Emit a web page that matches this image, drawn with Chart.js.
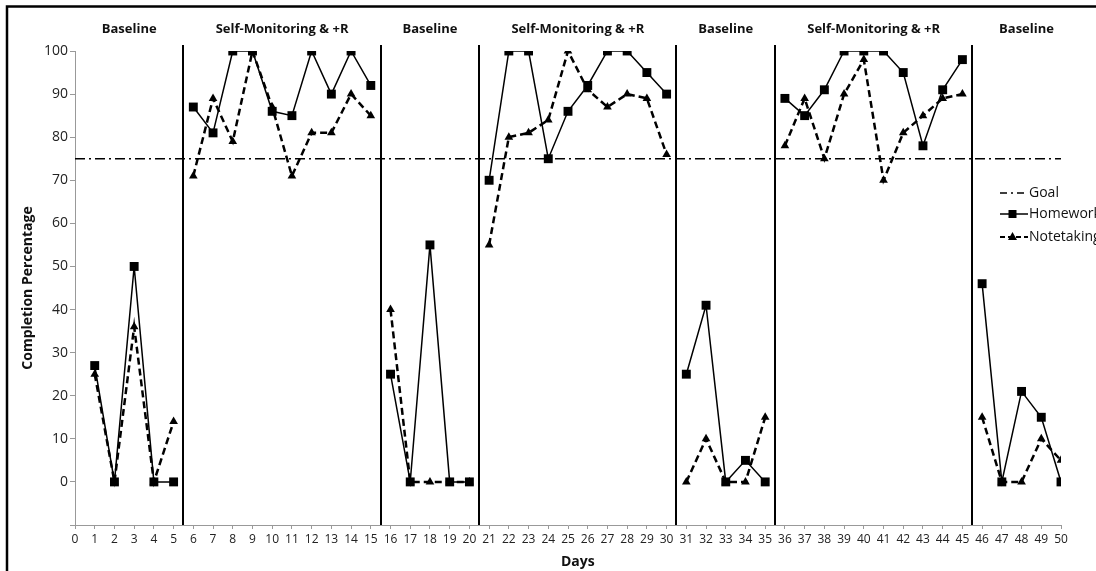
<!DOCTYPE html>
<html>
<head>
<meta charset="utf-8">
<script src="https://cdn.jsdelivr.net/npm/chart.js@4.4.0/dist/chart.umd.min.js"></script>
<style>
    html, body { margin: 0; padding: 0; background: #fff; }
    #wrap { width: 1096px; height: 571px; position: relative; }
</style>
</head>
<body>
<div id="wrap"><canvas id="phaseChart"></canvas></div>
<script>
// Days 1..50
const days = [
    1, 2, 3, 4, 5, 6, 7, 8, 9, 10, 11, 12, 13, 14, 15, 16, 17, 18, 19, 20, 21, 22, 23, 24, 25,
    26, 27, 28, 29, 30, 31, 32, 33, 34, 35, 36, 37, 38, 39, 40, 41, 42, 43, 44, 45, 46, 47, 48, 49, 50
];
const homework = [
    27, 0, 50, 0, 0,
    87, 81, 100, 100, 86, 85, 100, 90, 100, 92,
    25, 0, 55, 0, 0,
    70, 100, 100, 75, 86, 92, 100, 100, 95, 90,
    25, 41, 0, 5, 0,
    89, 85, 91, 100, 100, 100, 95, 78, 91, 98,
    46, 0, 21, 15, 0
];
const notetaking = [
    25, 0, 36, 0, 14,
    71, 89, 79, 100, 87, 71, 81, 81, 90, 85,
    40, 0, 0, 0, 0,
    55, 80, 81, 84, 100, 91, 87, 90, 89, 76,
    0, 10, 0, 0, 15,
    78, 89, 75, 90, 98, 70, 81, 85, 89, 90,
    15, 0, 0, 10, 5
];
const goal = 75;
const dayRange = [0, 50];
const phaseChanges = [5.5, 15.5, 20.5, 30.5, 35.5, 45.5];
const phaseNames = [
    'Baseline', 'Self-Monitoring & +R', 'Baseline', 'Self-Monitoring & +R',
    'Baseline', 'Self-Monitoring & +R', 'Baseline'
];

const FONT = "'Open Sans', sans-serif";

function phaseOf(x) {
    let p = 0;
    phaseChanges.forEach(c => { if (x > c) p++; });
    return p;
}

// hide the connecting segment between two phases
const breakAtPhase = ctx =>
    phaseOf(ctx.p0.parsed.x) !== phaseOf(ctx.p1.parsed.x) ? 'rgba(0,0,0,0)' : undefined;

const phasePlugin = {
    id: 'phases',
    afterDatasetsDraw(chart) {
        const { ctx, chartArea, scales: { x } } = chart;
        ctx.save();
        ctx.strokeStyle = '#000';
        ctx.lineWidth = 2;
        phaseChanges.forEach(c => {
            const px = Math.round(x.getPixelForValue(c));
            ctx.beginPath();
            ctx.moveTo(px, chartArea.top - 6);
            ctx.lineTo(px, chartArea.bottom);
            ctx.stroke();
        });

        // phase headings, centred in each phase
        const bounds = [dayRange[0], ...phaseChanges, dayRange[1] + 1];
        ctx.fillStyle = '#111';
        ctx.font = 'bold 13px ' + FONT;
        ctx.textAlign = 'center';
        ctx.textBaseline = 'middle';
        phaseNames.forEach((name, i) => {
            const cx = x.getPixelForValue((bounds[i] + bounds[i + 1]) / 2);
            ctx.fillText(name, cx, 29);
        });

        // x axis title
        ctx.font = 'bold 14px ' + FONT;
        ctx.fillText('Days', x.getPixelForValue((dayRange[0] + dayRange[1] + 1) / 2), 562);
        ctx.restore();
    },
    afterDraw(chart) {
        const { ctx } = chart;
        const sets = chart.data.datasets;
        ctx.save();
        // legend (the text runs off the right edge, as in the original)
        const rows = [193, 214, 237];
        const x0 = 1000, x1 = 1029, mid = 1012.5;
        ctx.font = '14px ' + FONT;
        ctx.textBaseline = 'middle';
        ctx.textAlign = 'left';
        ctx.strokeStyle = '#000';

        // Goal
        ctx.lineWidth = 1.5;
        ctx.setLineDash([7, 4, 2, 4]);
        ctx.beginPath();
        ctx.moveTo(x0, rows[0]);
        ctx.lineTo(x0 + 26, rows[0]);
        ctx.stroke();
        ctx.setLineDash([]);
        ctx.fillStyle = '#111';
        ctx.fillText(sets[0].label, x1, rows[0]);

        // Homework
        ctx.lineWidth = 1.5;
        ctx.beginPath();
        ctx.moveTo(x0, rows[1]);
        ctx.lineTo(x1 - 1, rows[1]);
        ctx.stroke();
        ctx.fillStyle = '#000';
        ctx.fillRect(mid - 4, rows[1] - 4, 8, 8);
        ctx.fillStyle = '#111';
        ctx.fillText(sets[1].label, x1, rows[1]);

        // Notetaking
        ctx.lineWidth = 2;
        ctx.setLineDash([5, 3]);
        ctx.beginPath();
        ctx.moveTo(x0, rows[2]);
        ctx.lineTo(x1 - 1, rows[2]);
        ctx.stroke();
        ctx.setLineDash([]);
        ctx.fillStyle = '#000';
        ctx.beginPath();
        ctx.moveTo(mid, rows[2] - 5);
        ctx.lineTo(mid + 4.5, rows[2] + 3);
        ctx.lineTo(mid - 4.5, rows[2] + 3);
        ctx.closePath();
        ctx.fill();
        ctx.fillStyle = '#111';
        ctx.fillText(sets[2].label, x1, rows[2]);

        // picture frame
        ctx.lineWidth = 2.5;
        ctx.strokeStyle = '#000';
        ctx.strokeRect(7, 6.5, 1200, 700);
        ctx.restore();
    }
};

function createPhaseChart() {
    const el = document.getElementById('phaseChart');

    const data = {
        datasets: [
            {
                label: 'Goal',
                data: dayRange.map(d => ({ x: d, y: goal })),
                borderColor: '#000',
                borderWidth: 1.5,
                borderDash: [10, 4, 2, 4],
                pointRadius: 0,
                order: 3
            },
            {
                label: 'Homework',
                data: days.map((d, i) => ({ x: d, y: homework[i] })),
                borderColor: '#000',
                borderWidth: 1.5,
                pointStyle: 'rect',
                pointRadius: 6.3,
                pointBackgroundColor: '#000',
                pointBorderWidth: 0,
                segment: { borderColor: breakAtPhase },
                order: 1
            },
            {
                label: 'Notetaking',
                data: days.map((d, i) => ({ x: d, y: notetaking[i] })),
                borderColor: '#000',
                borderWidth: 2.5,
                borderDash: [7, 4],
                pointStyle: 'triangle',
                pointRadius: 5,
                pointBackgroundColor: '#000',
                pointBorderWidth: 0,
                segment: { borderColor: breakAtPhase },
                order: 2
            }
        ]
    };

    const config = {
        type: 'line',
        data: data,
        options: {
            responsive: true,
            maintainAspectRatio: false,
            animation: false,
            layout: { padding: { left: 10, top: 51, right: 35, bottom: 0 } },
            plugins: {
                legend: { display: false },
                tooltip: { enabled: false }
            },
            scales: {
                x: {
                    type: 'linear',
                    min: dayRange[0],
                    max: dayRange[1],
                    afterFit: s => { s.height = 46; },
                    ticks: {
                        stepSize: 1,
                        autoSkip: false,
                        maxRotation: 0,
                        padding: 3,
                        color: '#222',
                        font: { family: FONT, size: 12 }
                    },
                    grid: { drawOnChartArea: false, tickLength: 4, color: '#999' },
                    border: { color: '#999' }
                },
                y: {
                    min: -10,
                    max: 100,
                    afterFit: s => { s.width = 65; },
                    ticks: {
                        stepSize: 10,
                        padding: 2,
                        color: '#222',
                        font: { family: FONT, size: 14 },
                        callback: v => (v < 0 ? '' : v)
                    },
                    grid: { drawOnChartArea: false, tickLength: 5, color: '#999' },
                    border: { color: '#999' },
                    title: {
                        display: true,
                        text: 'Completion Percentage',
                        color: '#111',
                        font: { family: FONT, size: 14, weight: 'bold' },
                        padding: { top: 10 }
                    }
                }
            }
        },
        plugins: [phasePlugin]
    };

    el.chart = new Chart(el, config);
}

createPhaseChart();
</script>
</body>
</html>
